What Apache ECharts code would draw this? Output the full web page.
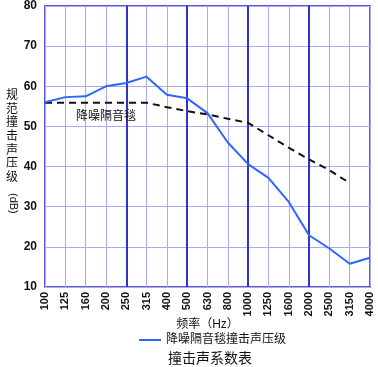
<!DOCTYPE html>
<html><head><meta charset="utf-8">
<script src="https://cdn.jsdelivr.net/npm/echarts@6/dist/echarts.min.js"></script>
<style>html,body{margin:0;padding:0;background:#fff}#c{width:378px;height:367px}</style>
</head><body><div id="c"></div>
<script>
var categories = ['100','125','160','200','250','315','400','500','630','800','1000','1250','1600','2000','2500','3150','4000'];
var blanketLevel = [56.0,57.3,57.5,60.0,60.8,62.4,57.9,57.0,53.3,46.0,40.6,37.2,31.2,22.9,19.6,15.8,17.3];
var referenceCurve = [55.9,55.9,55.9,55.9,55.9,55.9,54.8,53.8,53.0,51.9,50.9,47.8,44.7,41.8,39.1,35.9,null];
var octaveCategories = ['250','500','1000','2000'];
var yTicks = {min:10, max:80, step:10};
var seriesName = '降噪隔音毯撞击声压级';
var refLabel = '降噪隔音毯';
var FONT = 'Arial, "Liberation Sans", "Noto Sans CJK SC", sans-serif';

var chart = echarts.init(document.getElementById('c'));
chart.setOption({
  animation:false,
  textStyle:{fontFamily:FONT},
  title:{text:'撞击声系数表', left:205, top:347, textAlign:'center',
    textStyle:{fontSize:14, fontWeight:'normal', color:'#111', fontFamily:FONT}},
  legend:{data:[seriesName], left:134, top:329, itemWidth:22, itemHeight:2, itemGap:4,
    icon:'rect', textStyle:{fontSize:12, color:'#111', fontFamily:FONT}},
  grid:{left:45, right:8, top:6, bottom:80, show:true, borderColor:'#2222dd', borderWidth:1.5, backgroundColor:'#fff'},
  xAxis:[{
    type:'category', data:categories, boundaryGap:false,
    name:'频率（Hz）', nameLocation:'middle', nameGap:32, nameMoveOverlap:false,
    nameTextStyle:{fontSize:12, color:'#111'},
    axisLine:{show:false}, axisTick:{show:false},
    axisLabel:{rotate:90, fontSize:11, fontWeight:'bold', color:'#111', margin:5, interval:0},
    splitLine:{show:true, interval:0, lineStyle:{color:'#aaaaee', width:1}}
  },{
    type:'category', data:categories, boundaryGap:false, position:'bottom',
    axisLine:{show:false}, axisTick:{show:false}, axisLabel:{show:false},
    splitLine:{show:true, interval:function(i, v){return octaveCategories.indexOf(v) >= 0;}, lineStyle:{color:'#3333cc', width:2}}
  }],
  yAxis:{
    type:'value', min:yTicks.min, max:yTicks.max, interval:yTicks.step,
    axisLine:{show:false}, axisTick:{show:false},
    axisLabel:{fontSize:12, fontWeight:'bold', color:'#111', margin:8},
    splitLine:{show:true, lineStyle:{color:'#aaaaee', width:1}}
  },
  graphic:[
    {type:'text', left:6, top:89, style:{text:'规\n范\n撞\n击\n声\n压\n级', fontSize:12, lineHeight:13.6, fill:'#111', fontFamily:FONT}},
    {type:'text', x:19, y:193, rotation:-Math.PI/2, style:{text:'(dB)', fontSize:11, fill:'#111', fontFamily:FONT}}
  ],
  series:[{
    name:seriesName, type:'line', data:blanketLevel, symbol:'none', xAxisIndex:0,
    lineStyle:{color:'#2f66ff', width:2}, itemStyle:{color:'#2f66ff'}, z:3
  },{
    name:'ref', type:'line', symbol:'none', xAxisIndex:0, data:referenceCurve,
    lineStyle:{color:'#111', width:2, type:[7,5]}, itemStyle:{color:'#111'}, z:2,
    markPoint:{silent:true, symbol:'circle', symbolSize:1, itemStyle:{color:'rgba(0,0,0,0)'},
      data:[{coord:[categories[3], referenceCurve[3]], label:{show:true, formatter:refLabel, position:'bottom', distance:7,
        fontSize:12, color:'#111', fontFamily:FONT}}]}
  }]
});
</script></body></html>
